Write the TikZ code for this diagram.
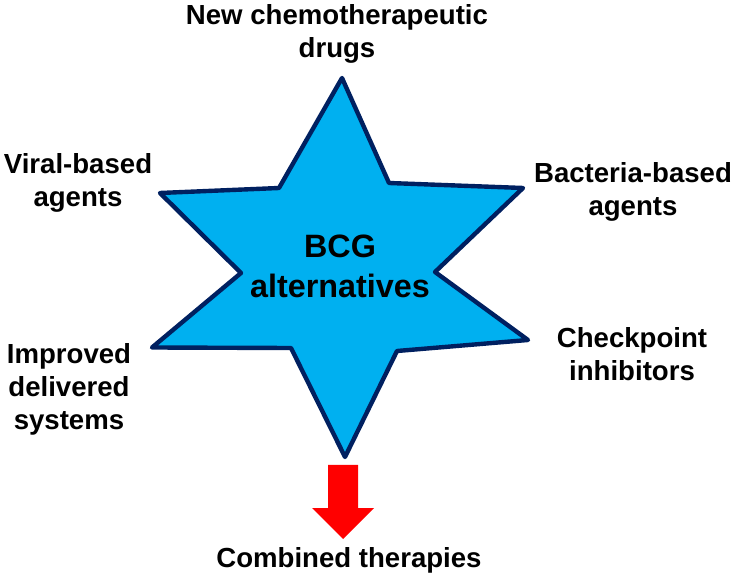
\documentclass[tikz,border=0pt]{standalone}
\usepackage{fontspec}
\setmainfont{Liberation Sans}
\usepackage{tikz}
\definecolor{starblue}{RGB}{0,176,240}
\definecolor{starnavy}{RGB}{0,32,96}
\definecolor{arrowred}{RGB}{255,0,0}
\tikzset{
  lbl/.style={font=\bfseries\fontsize{15.7}{18.8}\selectfont, align=center, inner sep=0pt},
  bcglbl/.style={font=\bfseries\fontsize{18.4}{22.8}\selectfont, align=center, inner sep=0pt}
}

\begin{document}
\begin{tikzpicture}
			\useasboundingbox (0.,0.) rectangle (14.7,11.52);
			
			\draw [starnavy, fill=starblue, line width=2.5pt, line join=round] (6.84,9.96)-- (7.78,7.86)-- (10.46,7.76)-- (8.70,6.08)-- (10.56,4.72)-- (7.94,4.50)-- (6.90,2.38)-- (5.82,4.56)-- (3.04,4.57)-- (4.82,6.06)-- (3.20,7.66)-- (5.58,7.76)-- cycle;
			\node[bcglbl] (bcg) at (6.80,6.19) {BCG\\alternatives};
			
			\fill [arrowred] (6.56,2.22)-- (7.16,2.22)-- (7.16,1.36)-- (7.48,1.36)-- (6.86,0.74)-- (6.24,1.36)-- (6.56,1.36)-- cycle;
			
			\node[lbl] (drugs) at (6.74,10.84) {New chemotherapeutic\\drugs};
			\node[lbl] (viral) at (1.56,7.87) {Viral-based\\agents};
			\node[lbl] (bact) at (12.66,7.68) {Bacteria-based\\agents};
			\node[lbl] (deliv) at (1.38,3.74) {Improved\\delivered\\systems};
			\node[lbl] (checkp) at (12.64,4.44) {Checkpoint\\inhibitors};
			\node[lbl] (comb) at (6.98,0.32) {Combined therapies};
		\end{tikzpicture}
\end{document}
